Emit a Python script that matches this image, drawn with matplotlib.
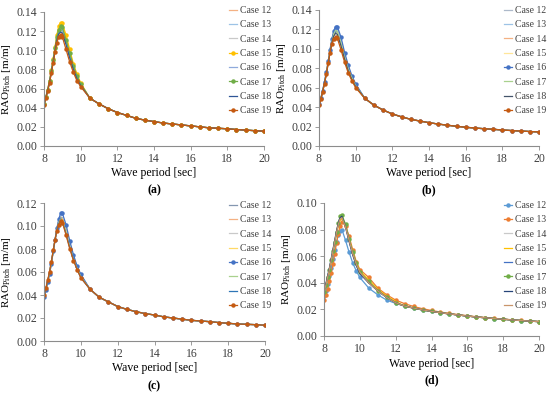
import matplotlib
matplotlib.use("Agg")
import matplotlib.pyplot as plt

plt.rcParams['font.family'] = ['Liberation Serif', 'DejaVu Serif']
plt.rcParams['mathtext.fontset'] = 'custom'
plt.rcParams['mathtext.rm'] = 'Liberation Serif'
plt.rcParams['text.color'] = '#404040'

# wave periods [sec]
period = [8.0, 8.1, 8.2, 8.3, 8.4, 8.5, 8.6, 8.7, 8.8, 8.9, 9.0,
          9.2, 9.4, 9.6, 9.8, 10.0,
          10.5, 11.0, 11.5, 12.0, 12.5, 13.0, 13.5, 14.0, 14.5, 15.0,
          15.5, 16.0, 16.5, 17.0, 17.5, 18.0, 18.5, 19.0, 19.5, 20.0]
cases = ['Case 12', 'Case 13', 'Case 14', 'Case 15', 'Case 16', 'Case 17', 'Case 18', 'Case 19']

# ---- (a) ----
tail_a = [0.050, 0.044, 0.039, 0.035, 0.032, 0.029, 0.027, 0.0255, 0.024, 0.023,
          0.022, 0.021, 0.020, 0.019, 0.0185, 0.018, 0.0172, 0.0166, 0.016, 0.0155]
a12 = [0.044, 0.051, 0.059, 0.068, 0.079, 0.091, 0.103, 0.115, 0.123, 0.127, 0.126, 0.113, 0.098, 0.085, 0.074, 0.065]
a13 = [0.044, 0.051, 0.058, 0.067, 0.078, 0.089, 0.101, 0.112, 0.120, 0.123, 0.122, 0.110, 0.096, 0.083, 0.073, 0.064]
a14 = [0.043, 0.050, 0.058, 0.067, 0.077, 0.089, 0.100, 0.111, 0.118, 0.121, 0.120, 0.108, 0.094, 0.082, 0.072, 0.064]
a15 = [0.044, 0.051, 0.059, 0.068, 0.079, 0.091, 0.103, 0.116, 0.125, 0.129, 0.128, 0.116, 0.101, 0.086, 0.075, 0.066]
a16 = [0.044, 0.051, 0.058, 0.067, 0.078, 0.089, 0.101, 0.112, 0.119, 0.122, 0.121, 0.109, 0.095, 0.083, 0.072, 0.064]
a17 = [0.044, 0.051, 0.059, 0.068, 0.078, 0.090, 0.102, 0.114, 0.121, 0.125, 0.124, 0.111, 0.097, 0.084, 0.073, 0.065]
a18 = [0.043, 0.050, 0.058, 0.066, 0.077, 0.088, 0.099, 0.110, 0.117, 0.119, 0.118, 0.106, 0.092, 0.080, 0.070, 0.063]
a19 = [0.043, 0.050, 0.057, 0.066, 0.076, 0.087, 0.098, 0.108, 0.114, 0.116, 0.114, 0.101, 0.088, 0.077, 0.068, 0.062]

# ---- (b) ----
tail_b = [0.049, 0.042, 0.037, 0.033, 0.030, 0.0275, 0.0257, 0.024, 0.0226, 0.0214,
          0.0203, 0.0193, 0.0185, 0.0178, 0.0172, 0.0165, 0.0159, 0.0154, 0.0149, 0.0145]
b12 = [0.043, 0.049, 0.057, 0.066, 0.076, 0.087, 0.099, 0.109, 0.117, 0.122, 0.121, 0.109, 0.094, 0.081, 0.071, 0.063]
b13 = [0.043, 0.049, 0.057, 0.065, 0.075, 0.086, 0.098, 0.108, 0.116, 0.120, 0.119, 0.107, 0.092, 0.080, 0.070, 0.062]
b14 = [0.042, 0.049, 0.056, 0.065, 0.075, 0.086, 0.097, 0.107, 0.114, 0.118, 0.117, 0.105, 0.091, 0.079, 0.069, 0.062]
b15 = [0.042, 0.049, 0.056, 0.065, 0.075, 0.086, 0.097, 0.107, 0.114, 0.117, 0.116, 0.104, 0.090, 0.078, 0.069, 0.061]
b16 = [0.043, 0.049, 0.057, 0.066, 0.076, 0.087, 0.099, 0.110, 0.118, 0.123, 0.123, 0.112, 0.096, 0.083, 0.072, 0.064]
b17 = [0.042, 0.049, 0.056, 0.065, 0.075, 0.086, 0.097, 0.107, 0.115, 0.119, 0.118, 0.106, 0.091, 0.079, 0.070, 0.062]
b18 = [0.042, 0.048, 0.056, 0.065, 0.074, 0.085, 0.096, 0.106, 0.113, 0.116, 0.115, 0.103, 0.089, 0.077, 0.068, 0.061]
b19 = [0.042, 0.048, 0.056, 0.064, 0.074, 0.085, 0.096, 0.105, 0.110, 0.112, 0.111, 0.099, 0.086, 0.075, 0.067, 0.060]

# ---- (c) ----
tail_c = [0.045, 0.038, 0.034, 0.030, 0.0275, 0.0255, 0.0238, 0.0226, 0.021, 0.020,
          0.019, 0.018, 0.0174, 0.0168, 0.016, 0.0154, 0.0148, 0.0145, 0.0142, 0.0137]
c12 = [0.039, 0.045, 0.052, 0.059, 0.068, 0.078, 0.088, 0.097, 0.104, 0.108, 0.107, 0.097, 0.084, 0.073, 0.064, 0.057]
c13 = [0.039, 0.045, 0.052, 0.059, 0.068, 0.078, 0.088, 0.097, 0.103, 0.107, 0.106, 0.096, 0.083, 0.072, 0.063, 0.056]
c14 = [0.039, 0.045, 0.052, 0.059, 0.068, 0.078, 0.088, 0.097, 0.103, 0.106, 0.105, 0.095, 0.082, 0.072, 0.063, 0.056]
c15 = [0.039, 0.045, 0.052, 0.060, 0.068, 0.078, 0.088, 0.097, 0.104, 0.107, 0.106, 0.096, 0.083, 0.072, 0.063, 0.056]
c16 = [0.038, 0.044, 0.051, 0.058, 0.067, 0.078, 0.088, 0.098, 0.106, 0.111, 0.111, 0.101, 0.087, 0.075, 0.065, 0.058]
c17 = [0.039, 0.045, 0.052, 0.059, 0.068, 0.078, 0.088, 0.097, 0.103, 0.106, 0.105, 0.094, 0.082, 0.071, 0.063, 0.056]
c18 = [0.039, 0.045, 0.052, 0.060, 0.069, 0.078, 0.088, 0.097, 0.102, 0.105, 0.104, 0.093, 0.081, 0.071, 0.062, 0.055]
c19 = [0.040, 0.046, 0.053, 0.060, 0.069, 0.079, 0.088, 0.096, 0.101, 0.104, 0.103, 0.092, 0.080, 0.070, 0.062, 0.055]

# ---- (d) ----
tail_d = [0.0225, 0.021, 0.0196, 0.0185, 0.0175, 0.0166, 0.0158, 0.015,
          0.0143, 0.0137, 0.0131, 0.0126, 0.0121, 0.0116, 0.0112, 0.0108]
d12 = [0.030, 0.034, 0.039, 0.045, 0.051, 0.058, 0.065, 0.071, 0.076, 0.079, 0.080, 0.072, 0.063, 0.055, 0.049, 0.044,
       0.036, 0.031, 0.027, 0.0245]
d13 = [0.027, 0.031, 0.035, 0.041, 0.047, 0.054, 0.062, 0.070, 0.077, 0.083, 0.086, 0.083, 0.075, 0.065, 0.056, 0.050,
       0.044, 0.036, 0.031, 0.027, 0.0243, 0.0222, 0.0205, 0.0192, 0.018, 0.017, 0.0161, 0.0153,
       0.0145, 0.0139, 0.0133, 0.0127, 0.0122, 0.0117, 0.0113, 0.0109]
d14 = [0.033, 0.038, 0.044, 0.050, 0.057, 0.064, 0.071, 0.078, 0.084, 0.088, 0.089, 0.083, 0.072, 0.062, 0.054, 0.048,
       0.040, 0.034, 0.029, 0.025]
d15 = [0.032, 0.037, 0.043, 0.049, 0.056, 0.063, 0.070, 0.077, 0.083, 0.087, 0.088, 0.083, 0.073, 0.063, 0.055, 0.049,
       0.042, 0.035, 0.030, 0.026]
d16 = [0.033, 0.038, 0.044, 0.050, 0.057, 0.064, 0.071, 0.078, 0.084, 0.089, 0.090, 0.083, 0.072, 0.062, 0.054, 0.047,
       0.040, 0.034, 0.029, 0.025]
d17 = [0.033, 0.038, 0.044, 0.050, 0.057, 0.064, 0.071, 0.078, 0.085, 0.090, 0.091, 0.084, 0.073, 0.063, 0.055, 0.048,
       0.041, 0.034, 0.029, 0.025]
d18 = [0.034, 0.039, 0.045, 0.051, 0.058, 0.065, 0.072, 0.079, 0.085, 0.089, 0.090, 0.082, 0.071, 0.061, 0.053, 0.047,
       0.040, 0.034, 0.029, 0.025]
d19 = [0.033, 0.038, 0.044, 0.050, 0.057, 0.064, 0.071, 0.078, 0.084, 0.088, 0.089, 0.082, 0.072, 0.062, 0.054, 0.048,
       0.040, 0.034, 0.029, 0.025]

panels = [
    dict(rect=[44, 12, 264, 146], ymax=0.14, label='(a)', leg=(229, 6), xl=173, cap=190,
         series=[a + tail_a for a in [a12, a13, a14, a15, a16, a17, a18, a19]],
         colors=['#F4B183', '#9DC3E6', '#C9C9C9', '#FFC000', '#8FAADC', '#70AD47', '#2F5597', '#C55A11'],
         marked=[3, 5, 7]),
    dict(rect=[319, 10, 539, 146], ymax=0.14, label='(b)', leg=(504, 6), xl=173, cap=190,
         series=[b + tail_b for b in [b12, b13, b14, b15, b16, b17, b18, b19]],
         colors=['#ADB9CA', '#9DC3E6', '#F4B183', '#FFE699', '#4472C4', '#A9D18E', '#44546A', '#C55A11'],
         marked=[4, 7]),
    dict(rect=[44, 203, 265, 341], ymax=0.12, label='(c)', leg=(229, 201), xl=368, cap=386,
         series=[c + tail_c for c in [c12, c13, c14, c15, c16, c17, c18, c19]],
         colors=['#8497B0', '#F4B183', '#C9C9C9', '#FFD966', '#4472C4', '#A9D18E', '#2E75B6', '#C55A11'],
         marked=[4, 7]),
    dict(rect=[324, 203, 539, 336], ymax=0.10, label='(d)', leg=(504, 201), xl=364, cap=380,
         series=[d12 + tail_d, d13, d14 + tail_d, d15 + tail_d, d16 + tail_d, d17 + tail_d, d18 + tail_d, d19 + tail_d],
         colors=['#5B9BD5', '#ED7D31', '#C9C9C9', '#FFC000', '#4472C4', '#70AD47', '#264478', '#C9956B'],
         marked=[0, 1, 5]),
]

W, H = 550, 393
fig = plt.figure(figsize=(W / 100, H / 100), dpi=100)

for p in panels:
    x0, y0, x1, y1 = p['rect']
    ax = fig.add_axes([x0 / W, 1 - y1 / H, (x1 - x0) / W, (y1 - y0) / H])
    handles = []
    for i, (name, ys, col) in enumerate(zip(cases, p['series'], p['colors'])):
        if i in p['marked']:
            h, = ax.plot(period, ys, color=col, lw=0.9, marker='o', ms=2.2, label=name)
        else:
            h, = ax.plot(period, ys, color=col, lw=0.9, label=name)
        handles.append(h)
    ax.set_xlim(8, 20)
    ax.set_ylim(0, p['ymax'])
    ax.set_xticks([8, 10, 12, 14, 16, 18, 20])
    step = 0.02
    n = int(round(p['ymax'] / step))
    ax.set_yticks([k * step for k in range(n + 1)])
    ax.set_yticklabels(['%.2f' % (k * step) for k in range(n + 1)])
    for s in ['top', 'right']:
        ax.spines[s].set_visible(False)
    for s in ['left', 'bottom']:
        ax.spines[s].set_color('#8C8C8C')
        ax.spines[s].set_linewidth(0.8)
    ax.tick_params(labelsize=8.5, length=3, width=0.6, color='#8C8C8C', labelcolor='#404040', pad=2)
    ax.set_ylabel(r'RAO$_{\mathrm{Pitch}}$ [m/m]', fontsize=8, labelpad=2)
    ax.set_xlabel('Wave period [sec]', fontsize=8.5)
    ax.xaxis.set_label_coords(0.5, -(p['xl'] - y1) / (y1 - y0), transform=ax.transAxes)
    ax.xaxis.label.set_va('center')
    fig.text((x0 + x1) / 2 / W, 1 - p['cap'] / H, p['label'], fontsize=8.5,
             fontweight='bold', ha='center', va='center', color='black')
    lx, ly = p['leg']
    fig.legend(handles=handles, loc='upper left', bbox_to_anchor=(lx / W, 1 - ly / H),
               frameon=False, fontsize=7, handlelength=0.8, handletextpad=0.3,
               labelspacing=0.55, borderpad=0, borderaxespad=0)

fig.savefig('out.png', dpi=100)
